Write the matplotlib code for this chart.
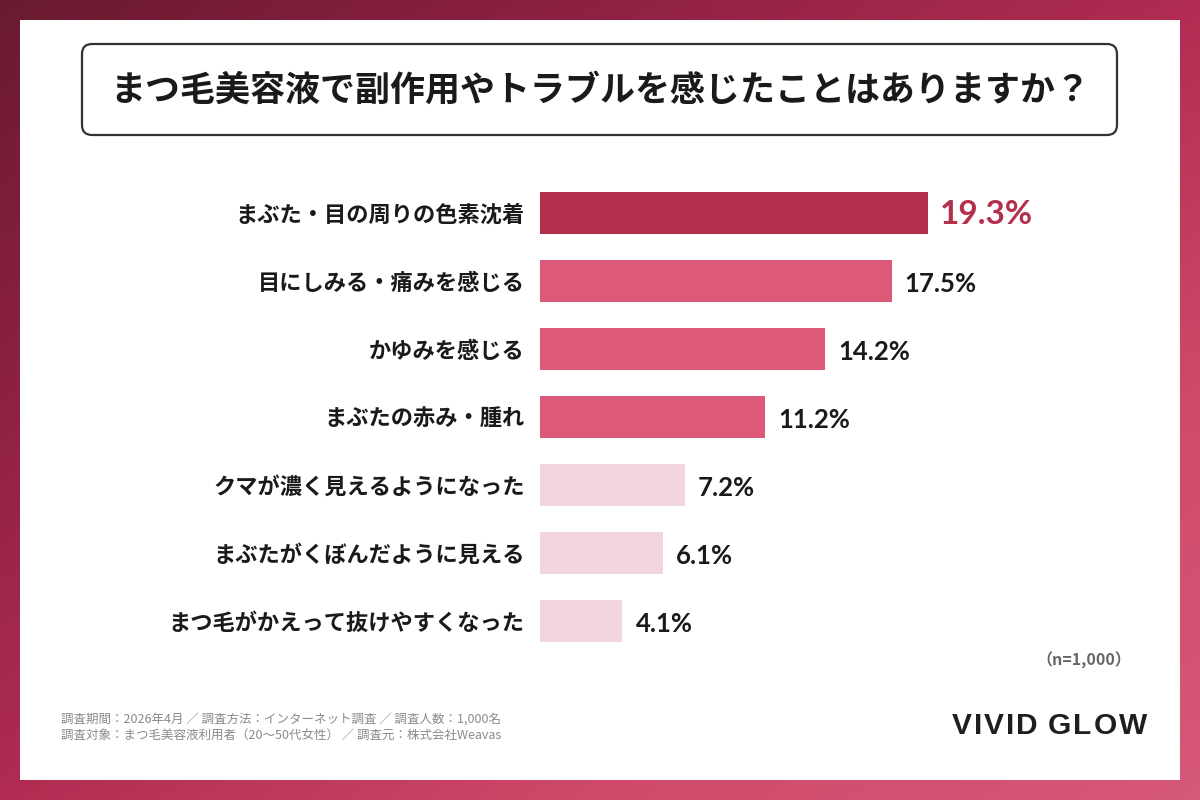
import numpy as np
import matplotlib
matplotlib.use("Agg")
import matplotlib.pyplot as plt
from matplotlib.patches import FancyBboxPatch, Rectangle
from matplotlib.colors import LinearSegmentedColormap

# ---- data ----
title = "まつ毛美容液で副作用やトラブルを感じたことはありますか？"
categories = ["まぶた・目の周りの色素沈着", "目にしみる・痛みを感じる", "かゆみを感じる",
              "まぶたの赤み・腫れ", "クマが濃く見えるようになった",
              "まぶたがくぼんだように見える", "まつ毛がかえって抜けやすくなった"]
values = [19.3, 17.5, 14.2, 11.2, 7.2, 6.1, 4.1]
sample_note = "（n=1,000）"
footnote_lines = ["調査期間：2026年4月 ／ 調査方法：インターネット調査 ／ 調査人数：1,000名",
                  "調査対象：まつ毛美容液利用者（20〜50代女性） ／ 調査元：株式会社Weavas"]
brand = "VIVID GLOW"

# ---- styles ----
bar_colors = ["#b3304d", "#dc5a78", "#dc5a78", "#dc5a78", "#f2d5de", "#f2d5de", "#f2d5de"]
JP = ["Noto Sans CJK JP", "DejaVu Sans"]
NUM = ["Lato", "DejaVu Sans"]

fig = plt.figure(figsize=(12, 8), dpi=100)

# background overlay in pixel coords
bg = fig.add_axes([0, 0, 1, 1])
bg.set_xlim(0, 1200)
bg.set_ylim(800, 0)
bg.axis("off")
xx, yy = np.meshgrid(np.linspace(0, 1, 240), np.linspace(0, 1, 160))
t = (xx + yy) / 2
cmap = LinearSegmentedColormap.from_list("g", [(0, "#6a1a30"), (0.25, "#8e2142"),
                                               (0.5, "#b02c52"), (0.75, "#cf4a6a"),
                                               (1, "#d6587a")])
bg.imshow(t, cmap=cmap, extent=(0, 1200, 800, 0), aspect="auto", zorder=0)
bg.add_patch(Rectangle((20, 20), 1160, 760, facecolor="white", edgecolor="none", zorder=1))
bg.add_patch(FancyBboxPatch((82, 44), 1035, 91, boxstyle="round,pad=0,rounding_size=10",
                            facecolor="white", edgecolor="#333333", linewidth=1.6, zorder=2))
bg.text(600, 90, title, ha="center", va="center", fontsize=25.2, fontweight="bold",
        family=JP, color="#1a1a1a", zorder=3)
bg.text(1131, 660, sample_note, ha="right", va="center", fontsize=11.5, fontweight="bold",
        family=JP, color="#666666", zorder=3)
bg.text(61, 719, footnote_lines[0], ha="left", va="center", fontsize=9.0,
        family=JP, color="#8a8a8a", zorder=3)
bg.text(61, 736, footnote_lines[1], ha="left", va="center", fontsize=9.0,
        family=JP, color="#8a8a8a", zorder=3)

# brand with letter spacing
fig.canvas.draw()
renderer = fig.canvas.get_renderer()
brand_items = []
x = 0.0
spacing = 2.0
for ch in brand:
    if ch == " ":
        x += 8
        continue
    tt = bg.text(0, 726, ch, ha="left", va="center", fontsize=21.5, fontweight="bold",
                 family=["Liberation Sans", "DejaVu Sans"], color="#1e1e1e", zorder=3)
    w = tt.get_window_extent(renderer).width
    brand_items.append((tt, x))
    x += w + spacing
total = x - spacing
start = 1147 - total
for tt, off in brand_items:
    tt.set_x(start + off)

# bar chart axes: x 540..1120 px, y 179..655 px
ax = fig.add_axes([540 / 1200, 1 - 655 / 800, 580 / 1200, 476 / 800])
ax.set_facecolor("none")
px_per_unit = 20.1
ax.set_xlim(0, 580 / px_per_unit)
n = len(categories)
ax.set_ylim(n - 0.5, -0.5)
y = np.arange(n)
ax.barh(y, values, height=0.62, color=bar_colors, edgecolor="none")
ax.set_yticks(y)
ax.set_yticklabels(categories, family=JP, fontsize=16.0, fontweight="bold", color="#1a1a1a")
ax.tick_params(axis="y", length=0, pad=11)
ax.set_xticks([])
for s in ax.spines.values():
    s.set_visible(False)
for i, v in enumerate(values):
    if i == 0:
        ax.text(v + 0.6, i + 0.02, f"{v:.1f}%", va="center", ha="left", fontsize=24,
                fontweight="bold", family=NUM, color="#b3304d")
    else:
        ax.text(v + 0.65, i + 0.05, f"{v:.1f}%", va="center", ha="left", fontsize=18.5,
                fontweight="bold", family=NUM, color="#1a1a1a")

fig.savefig("out.png", dpi=100)
